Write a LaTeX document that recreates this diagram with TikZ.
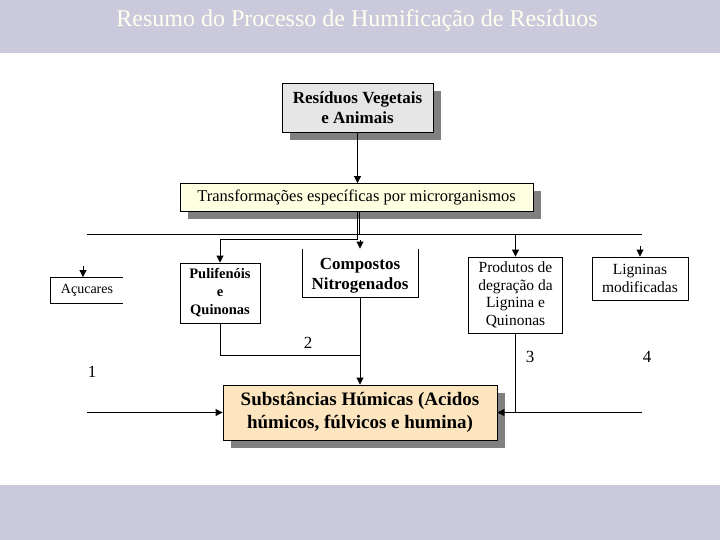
\documentclass[tikz,border=0pt]{standalone}
\usepackage{fontspec}
\setmainfont{Liberation Serif}
\usetikzlibrary{arrows.meta, calc, positioning, shadows}
\definecolor{hum-band}{HTML}{CBCADC}
\definecolor{hum-title}{HTML}{FFFFF0}
\definecolor{hum-grey}{HTML}{E6E6E6}
\definecolor{hum-cream}{HTML}{FFFFE1}
\definecolor{hum-wheat}{HTML}{FCE5BF}
\definecolor{hum-shadow}{HTML}{808080}

\begin{document}
\begin{tikzpicture}[x=1pt, y=-1pt, line width=0.9pt,
    >={Triangle[width=7pt, length=7pt]},
    box/.style={draw, inner sep=0pt, align=center},
    shade box/.style={box, drop shadow={shadow xshift=8pt, shadow yshift=-8pt,
      fill=hum-shadow, opacity=1}},
    plain box/.style={inner sep=0pt, align=center},
    lbl/.style={font=\fontsize{17}{17}\selectfont}]
  \useasboundingbox (0,0) rectangle (720,540);
  % faixas
  \fill[hum-band] (0,0) rectangle (720,53);
  \fill[hum-band] (0,485) rectangle (720,540);
  \node[hum-title, font=\fontsize{24}{24}\selectfont] (title) at (357,21)
    {Resumo do Processo de Humificação de Resíduos};

  % caixas
  \node[shade box, fill=hum-grey, minimum width=151pt, minimum height=49pt,
    font=\fontsize{17}{20}\selectfont\bfseries] (res) at (357.5,107.5)
    {Resíduos Vegetais\\e Animais};
  \node[shade box, fill=hum-cream, minimum width=353pt, minimum height=28pt,
    font=\fontsize{16.5}{18}\selectfont] (trans) at (356.5,197.5)
    {Transformações específicas por microrganismos};
  \node[plain box, minimum width=72pt, minimum height=25pt,
    font=\fontsize{14}{15}\selectfont] (acu) at (87,290) {Açucares};
  \node[box, minimum width=80pt, minimum height=60pt,
    font=\fontsize{14.5}{18}\selectfont\bfseries] (pol) at (220,293)
    {Pulifenóis\\e\\Quinonas};
  \node[plain box, minimum width=115pt, minimum height=42pt,
    font=\fontsize{17}{20}\selectfont\bfseries] (comp) at (360,276)
    {Compostos\\Nitrogenados};
  \node[box, minimum width=94pt, minimum height=76pt,
    font=\fontsize{15.5}{17.5}\selectfont] (prod) at (515.5,295)
    {Produtos de\\degração da\\Lignina e\\Quinonas};
  \node[box, minimum width=96pt, minimum height=43pt,
    font=\fontsize{15.5}{17.5}\selectfont] (lig) at (640,278.5)
    {Ligninas\\modificadas};
  \node[shade box, fill=hum-wheat, minimum width=274pt, minimum height=55pt,
    font=\fontsize{19}{23}\selectfont\bfseries] (sub) at (360,412.5)
    {Substâncias Húmicas (Acidos\\húmicos, fúlvicos e humina)};

  % caixas abertas
  \draw (acu.north east) -- (acu.north west) -- (acu.south west) -- (acu.south east);
  \draw ([yshift=6pt]comp.north west) -- (comp.south west) -- (comp.south east)
    -- ([yshift=6pt]comp.north east);

  % pontos livres
  \coordinate (busL) at (87,234);
  \coordinate (busR) at (642,234);
  \coordinate (busTap) at (359.5,234);
  \coordinate (jA) at (357,239);
  \coordinate (jB) at (360,355);
  \coordinate (compIn) at (360,240);
  \coordinate (acuIn) at (83,266);
  \coordinate (ligIn) at (640,246);
  \coordinate (lEnd) at (87,412.5);
  \coordinate (rEnd) at (642,412.5);

  % ligacoes
  \draw[->] (res.south) -- (res.south |- trans.north);
  \draw (busL) -- (busR);
  \draw (trans.south -| busTap) -- (busTap);
  \draw[->] (trans.south -| jA) -- (jA) -| (pol.north);
  \draw[->] (compIn) -- ([yshift=6pt]comp.north);
  \draw[->] (acuIn) -- (acuIn |- acu.north);
  \draw[->] (prod.north |- busL) -- (prod.north);
  \draw[->] (ligIn) -- (lig.north);
  \draw (pol.south) |- (jB);
  \draw[->] (comp.south) -- (sub.north);
  \draw[->] (prod.south) |- (sub.east);
  \draw (rEnd) -- (prod.south |- rEnd);
  \draw[->] (lEnd) -- (sub.west);

  % numeros
  \node[lbl] (n1) at (92,372) {1};
  \node[lbl] (n2) at (308,343) {2};
  \node[lbl] (n3) at (530,357) {3};
  \node[lbl] (n4) at (647,357) {4};
\end{tikzpicture}
\end{document}
